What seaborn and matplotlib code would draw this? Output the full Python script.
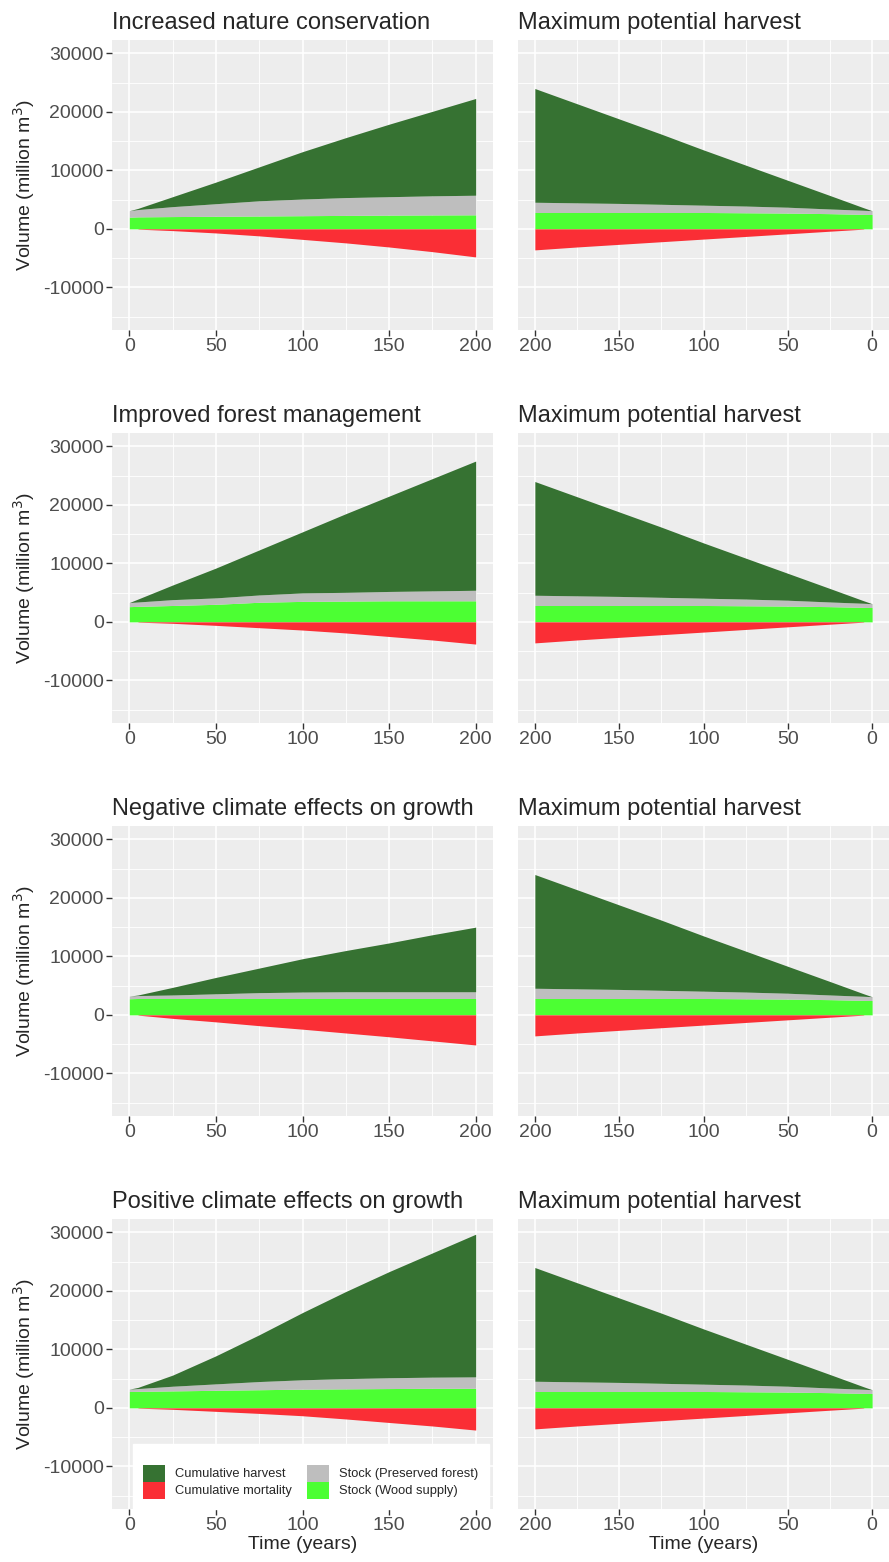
import numpy as np
import pandas as pd
import seaborn as sns
import matplotlib.pyplot as plt
from matplotlib.patches import Patch

# time points (years)
years = [0, 5, 25, 50, 75, 100, 125, 150, 175, 200]

# scenario titles
titles = ["Increased nature conservation", "Improved forest management",
          "Negative climate effects on growth", "Positive climate effects on growth"]
ref_title = "Maximum potential harvest"

# stock (wood supply), million m3
wood_inc = [2000, 2050, 2100, 2150, 2200, 2250, 2300, 2350, 2380, 2400]
wood_ifm = [2600, 2650, 2800, 3000, 3350, 3500, 3550, 3600, 3600, 3600]
wood_neg = [2750, 2800, 2800, 2800, 2800, 2800, 2800, 2800, 2800, 2800]
wood_pos = [2800, 2820, 2900, 3000, 3100, 3200, 3250, 3300, 3350, 3350]
wood_max = [2450, 2480, 2600, 2700, 2750, 2800, 2800, 2800, 2800, 2800]

# stock (preserved forest)
pres_inc = [1100, 1250, 1700, 2150, 2600, 2850, 3050, 3150, 3270, 3350]
pres_ifm = [700, 750, 1000, 1100, 1250, 1450, 1500, 1600, 1700, 1800]
pres_neg = [450, 500, 600, 800, 1000, 1100, 1150, 1150, 1150, 1150]
pres_pos = [400, 480, 800, 1100, 1400, 1600, 1750, 1850, 1900, 1950]
pres_max = [650, 700, 800, 1000, 1150, 1250, 1400, 1550, 1650, 1750]

# cumulative harvest
harv_inc = [0, 200, 1700, 3700, 5800, 8100, 10250, 12400, 14450, 16550]
harv_ifm = [0, 500, 2500, 5100, 7700, 10450, 13450, 16300, 19200, 22100]
harv_neg = [0, 100, 1300, 2800, 4200, 5700, 7050, 8350, 9750, 11050]
harv_pos = [0, 200, 1900, 4800, 8000, 11500, 14900, 18150, 21250, 24400]
harv_max = [0, 420, 2300, 4600, 7000, 9450, 12000, 14450, 16950, 19450]

# cumulative mortality (plotted negative)
mort_inc = [0, 50, 300, 700, 1200, 1800, 2400, 3100, 3900, 4800]
mort_ifm = [0, 50, 250, 600, 1000, 1400, 1900, 2500, 3100, 3800]
mort_neg = [0, 50, 600, 1200, 1850, 2450, 3100, 3750, 4450, 5150]
mort_pos = [0, 50, 250, 600, 950, 1350, 1900, 2500, 3100, 3800]
mort_max = [0, 50, 400, 850, 1300, 1750, 2200, 2650, 3100, 3600]

labels = ["Cumulative harvest", "Cumulative mortality",
          "Stock (Preserved forest)", "Stock (Wood supply)"]
colors = {"Cumulative harvest": "#367232", "Cumulative mortality": "#FA2E35",
          "Stock (Preserved forest)": "#BEBEBE", "Stock (Wood supply)": "#4CFF33"}

scen = [(wood_inc, pres_inc, harv_inc, mort_inc),
        (wood_ifm, pres_ifm, harv_ifm, mort_ifm),
        (wood_neg, pres_neg, harv_neg, mort_neg),
        (wood_pos, pres_pos, harv_pos, mort_pos)]
ref = (wood_max, pres_max, harv_max, mort_max)

sns.set_theme(style="darkgrid", rc={
    "axes.facecolor": "#EDEDED", "grid.color": "white",
    "xtick.color": "#333333", "ytick.color": "#333333",
    "xtick.labelcolor": "#4D4D4D", "ytick.labelcolor": "#4D4D4D",
    "xtick.bottom": True, "ytick.left": True,
    "xtick.major.size": 4, "ytick.major.size": 4,
    "xtick.major.width": 1.0, "ytick.major.width": 1.0,
    "axes.unicode_minus": False,
})
plt.rcParams["font.family"] = ["Liberation Sans", "DejaVu Sans"]


def draw(ax, d, title, reverse=False, ylab=True, xlab=False):
    wood, pres, harv, mort = [np.array(v, dtype=float) for v in d]
    df = pd.DataFrame({"year": years, "wood": wood, "pres": wood + pres,
                       "harv": wood + pres + harv, "mort": -mort})
    ax.fill_between(df["year"], 0, df["wood"], color=colors["Stock (Wood supply)"], lw=0)
    ax.fill_between(df["year"], df["wood"], df["pres"], color=colors["Stock (Preserved forest)"], lw=0)
    ax.fill_between(df["year"], df["pres"], df["harv"], color=colors["Cumulative harvest"], lw=0)
    ax.fill_between(df["year"][1:], 0, df["mort"][1:], color=colors["Cumulative mortality"], lw=0)
    ax.set_ylim(-17300, 32300)
    if reverse:
        ax.set_xlim(210, -10)
    else:
        ax.set_xlim(-10, 210)
    ax.set_xticks([0, 50, 100, 150, 200])
    ax.set_xticks([25, 75, 125, 175], minor=True)
    ax.set_yticks([-10000, 0, 10000, 20000, 30000])
    ax.set_yticks([-15000, -5000, 5000, 15000, 25000], minor=True)
    ax.grid(which="major", color="white", lw=1.2)
    ax.grid(which="minor", color="white", lw=0.6)
    ax.tick_params(axis="both", labelsize=14, length=4, pad=2)
    ax.tick_params(which="minor", length=0)
    for s in ax.spines.values():
        s.set_visible(False)
    ax.set_axisbelow(True)
    ax.set_title(title, loc="left", fontsize=17, pad=8)
    if ylab:
        ax.set_ylabel("Volume (million m$^3$)", fontsize=14, labelpad=4)
    else:
        ax.tick_params(axis="y", left=False, labelleft=False)
        ax.set_ylabel("")
    if xlab:
        ax.set_xlabel("Time (years)", fontsize=14, labelpad=1)
    else:
        ax.set_xlabel("")


fig = plt.figure(figsize=(8.89, 15.62), dpi=100)
W, H = 889, 1562
tops = [40, 433, 826, 1219]
ph = 290
for i in range(4):
    axl = fig.add_axes([112 / W, 1 - (tops[i] + ph) / H, 381 / W, ph / H])
    axr = fig.add_axes([518 / W, 1 - (tops[i] + ph) / H, 371 / W, ph / H])
    draw(axl, scen[i], titles[i], xlab=(i == 3))
    draw(axr, ref, ref_title, reverse=True, ylab=False, xlab=(i == 3))
    if i == 3:
        handles = [Patch(facecolor=colors[l], edgecolor="none", label=l) for l in labels]
        leg = axl.legend(handles=handles, loc="lower left", bbox_to_anchor=(0.055, 0.0),
                         ncol=2, fontsize=9.3, frameon=True, fancybox=False,
                         title=" ", title_fontsize=7,
                         handlelength=1.65, handleheight=1.65, columnspacing=1.2,
                         labelspacing=0.0, borderpad=0.8, handletextpad=0.8,
                         borderaxespad=0.0)
        leg.get_frame().set_facecolor("white")
        leg.get_frame().set_edgecolor("white")
        leg.get_frame().set_alpha(1)

fig.savefig("out.png", dpi=100)
